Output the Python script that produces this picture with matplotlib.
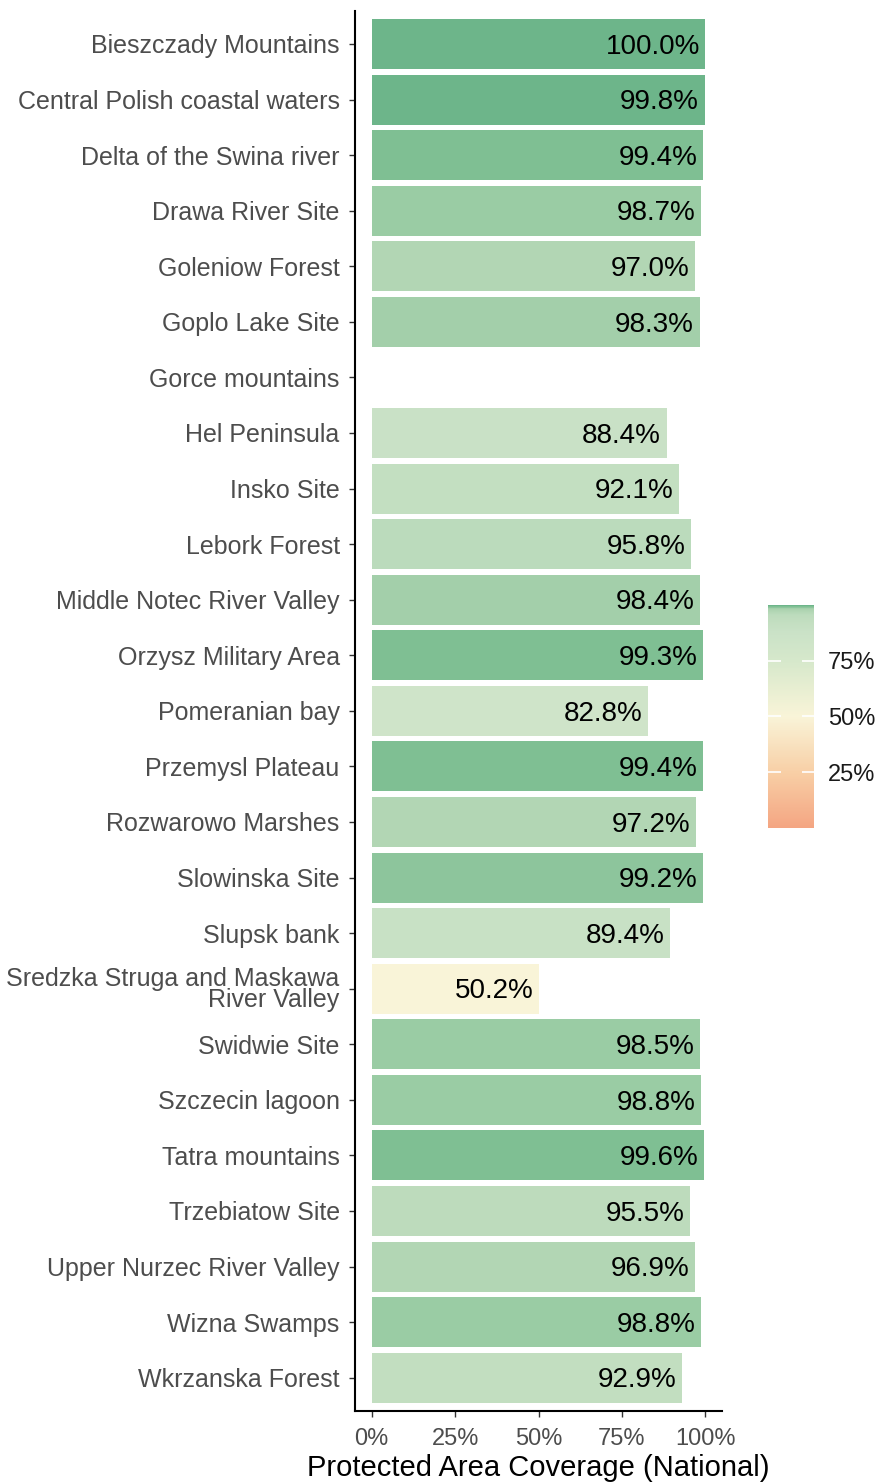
import numpy as np
import matplotlib
matplotlib.use("Agg")
import matplotlib.pyplot as plt
from matplotlib.colors import LinearSegmentedColormap, Normalize
from matplotlib.cm import ScalarMappable

plt.rcParams['font.family'] = ['Liberation Sans', 'DejaVu Sans']

# data
sites = ["Bieszczady Mountains", "Central Polish coastal waters", "Delta of the Swina river",
         "Drawa River Site", "Goleniow Forest", "Goplo Lake Site", "Gorce mountains",
         "Hel Peninsula", "Insko Site", "Lebork Forest", "Middle Notec River Valley",
         "Orzysz Military Area", "Pomeranian bay", "Przemysl Plateau", "Rozwarowo Marshes",
         "Slowinska Site", "Slupsk bank", "Sredzka Struga and Maskawa\nRiver Valley",
         "Swidwie Site", "Szczecin lagoon", "Tatra mountains", "Trzebiatow Site",
         "Upper Nurzec River Valley", "Wizna Swamps", "Wkrzanska Forest"]
coverage = [100.0, 99.8, 99.4, 98.7, 97.0, 98.3, np.nan, 88.4, 92.1, 95.8, 98.4, 99.3, 82.8,
            99.4, 97.2, 99.2, 89.4, 50.2, 98.5, 98.8, 99.6, 95.5, 96.9, 98.8, 92.9]

# colour scale (red -> cream -> green, steep near 100)
nodes = [0, 25, 50, 75, 88, 93, 96, 98, 98.8, 99.3, 99.6, 99.8, 100]
cols = ["#f4a582", "#f8cfa6", "#f9f4d8", "#d6e8cb", "#cae2c7", "#c2dec0", "#bcdbbc",
        "#acd3b0", "#9bcca5", "#8ac49a", "#80bf93", "#72b88c", "#6db58a"]
cmap = LinearSegmentedColormap.from_list("cov", list(zip([n / 100 for n in nodes], cols)))
norm = Normalize(0, 100)

W, H = 881, 1484
fig = plt.figure(figsize=(W / 100, H / 100), dpi=100)
ax = fig.add_axes([355 / W, 1 - 1411 / H, (722 - 355) / W, (1411 - 10.6) / H])

y = np.arange(len(sites))
vals = np.array(coverage)
ok = ~np.isnan(vals)
ax.barh(y[ok], vals[ok], height=0.9, color=cmap(norm(vals[ok])))
for yi, v in zip(y[ok], vals[ok]):
    ax.annotate(f"{v:.1f}%", (v, yi), xytext=(-4, -2), textcoords="offset points",
                ha="right", va="center", fontsize=20, color="black")

ax.set_xlim(-5, 105)
ax.set_ylim(len(sites) - 0.4, -0.6)
ax.set_yticks(y)
ax.set_yticklabels(sites, fontsize=18, color="#4d4d4d", linespacing=0.85)
ax.set_xticks([0, 25, 50, 75, 100])
ax.set_xticklabels(["0%", "25%", "50%", "75%", "100%"], fontsize=17, color="#4d4d4d")
ax.tick_params(length=4, width=1, color="#333333")
ax.tick_params(axis="y", pad=7)
ax.tick_params(axis="x", pad=8)
ax.set_xlabel("Protected Area Coverage (National)", fontsize=21, labelpad=3)
for s in ["top", "right"]:
    ax.spines[s].set_visible(False)
for s in ["left", "bottom"]:
    ax.spines[s].set_linewidth(1.5)
    ax.spines[s].set_color("black")

# colour bar legend
cax = fig.add_axes([768 / W, 1 - 828 / H, 46 / W, 223 / H])
cb = fig.colorbar(ScalarMappable(norm=norm, cmap=cmap), cax=cax, ticks=[25, 50, 75])
cb.outline.set_visible(False)
cb.ax.set_yticklabels(["25%", "50%", "75%"], fontsize=17, color="#1a1a1a")
cax.tick_params(which="both", direction="in", length=9, width=1.2, color="white",
                left=True, right=True, pad=10)
cax.minorticks_off()

fig.savefig("out.png", dpi=100)
